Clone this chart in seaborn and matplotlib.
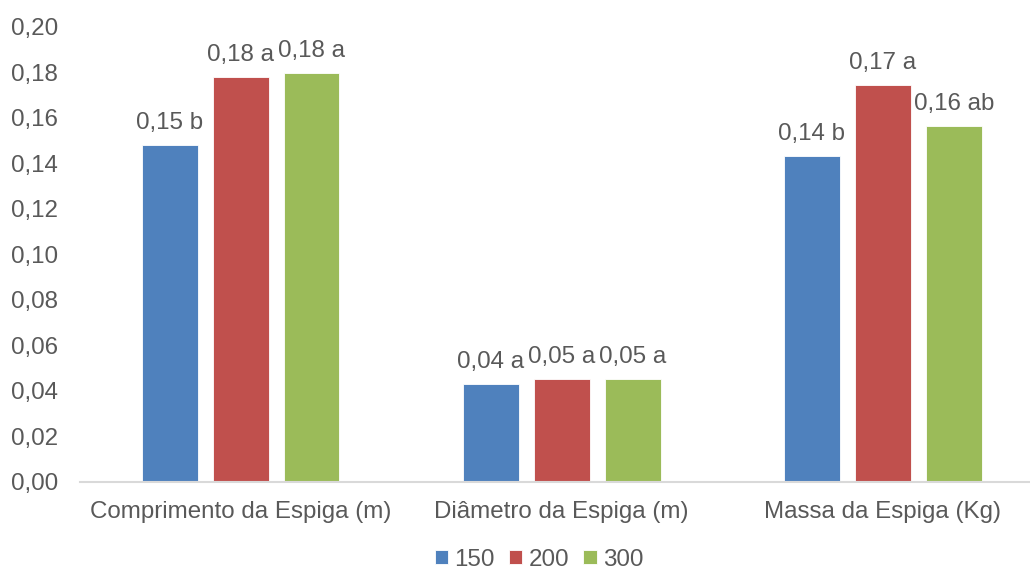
import matplotlib
matplotlib.use("Agg")
import matplotlib.pyplot as plt
import seaborn as sns
import pandas as pd

# Spike measurements by spacing treatment
categories = ["Comprimento da Espiga (m)", "Diâmetro da Espiga (m)", "Massa da Espiga (Kg)"]
treatments = ["150", "200", "300"]
values_150 = [0.148, 0.0429, 0.1432]
values_200 = [0.1779, 0.0453, 0.1744]
values_300 = [0.1796, 0.0453, 0.1563]
letters_150 = ["b", "a", "b"]
letters_200 = ["a", "a", "a"]
letters_300 = ["a", "a", "ab"]
y_ticks = [0.00, 0.02, 0.04, 0.06, 0.08, 0.10, 0.12, 0.14, 0.16, 0.18, 0.20]

colors = ["#4F81BD", "#C0504D", "#9BBB59"]
text_color = "#595959"

series = {"150": values_150, "200": values_200, "300": values_300}
letters = {"150": letters_150, "200": letters_200, "300": letters_300}
df = pd.DataFrame(
    [(c, t, series[t][i]) for t in treatments for i, c in enumerate(categories)],
    columns=["categoria", "tratamento", "valor"],
)

sns.set_theme(style="white")
plt.rcParams["font.family"] = ["Liberation Sans", "DejaVu Sans"]
fs = 17.4

fig = plt.figure(figsize=(10.3, 5.7), dpi=100)
W, H = 1030, 570
left, right, top, bottom = 80, 1043.5, 26.7, 481.7
ax = fig.add_axes([left / W, 1 - bottom / H, (right - left) / W, (bottom - top) / H])

sns.barplot(
    data=df, x="categoria", y="valor", hue="tratamento",
    order=categories, hue_order=treatments, palette=colors,
    width=0.663, gap=0.213, saturation=1, errorbar=None, ax=ax,
    edgecolor="white", linewidth=0.6,
)

for cont, t in zip(ax.containers, treatments):
    labs = [f"{v:.2f}".replace(".", ",") + " " + l for v, l in zip(series[t], letters[t])]
    ax.bar_label(cont, labels=labs, padding=8, fontsize=fs, color=text_color)

ax.set_xlim(-0.5, 2.5)
ax.set_ylim(0, 0.20)
ax.set_yticks(y_ticks)
ax.set_yticklabels([f"{v:.2f}".replace(".", ",") for v in y_ticks])
ax.set_xlabel("")
ax.set_ylabel("")
ax.tick_params(axis="y", length=0, pad=16, labelsize=fs, labelcolor=text_color)
ax.tick_params(axis="x", length=0, pad=14, labelsize=fs, labelcolor=text_color)

for s in ["top", "right", "left"]:
    ax.spines[s].set_visible(False)
ax.spines["bottom"].set_color("#D9D9D9")
ax.spines["bottom"].set_linewidth(1.5)
ax.spines["bottom"].set_clip_on(False)

handles, labels_ = ax.get_legend_handles_labels()
ax.legend(
    handles, labels_, loc="center", bbox_to_anchor=(539 / W, 1 - 559.5 / H),
    bbox_transform=fig.transFigure, ncol=3, frameon=False, fontsize=fs,
    handlelength=0.55, handleheight=0.55, handletextpad=0.25, columnspacing=0.6,
    labelcolor=text_color, borderpad=0,
)

fig.savefig("out.png", dpi=100)
